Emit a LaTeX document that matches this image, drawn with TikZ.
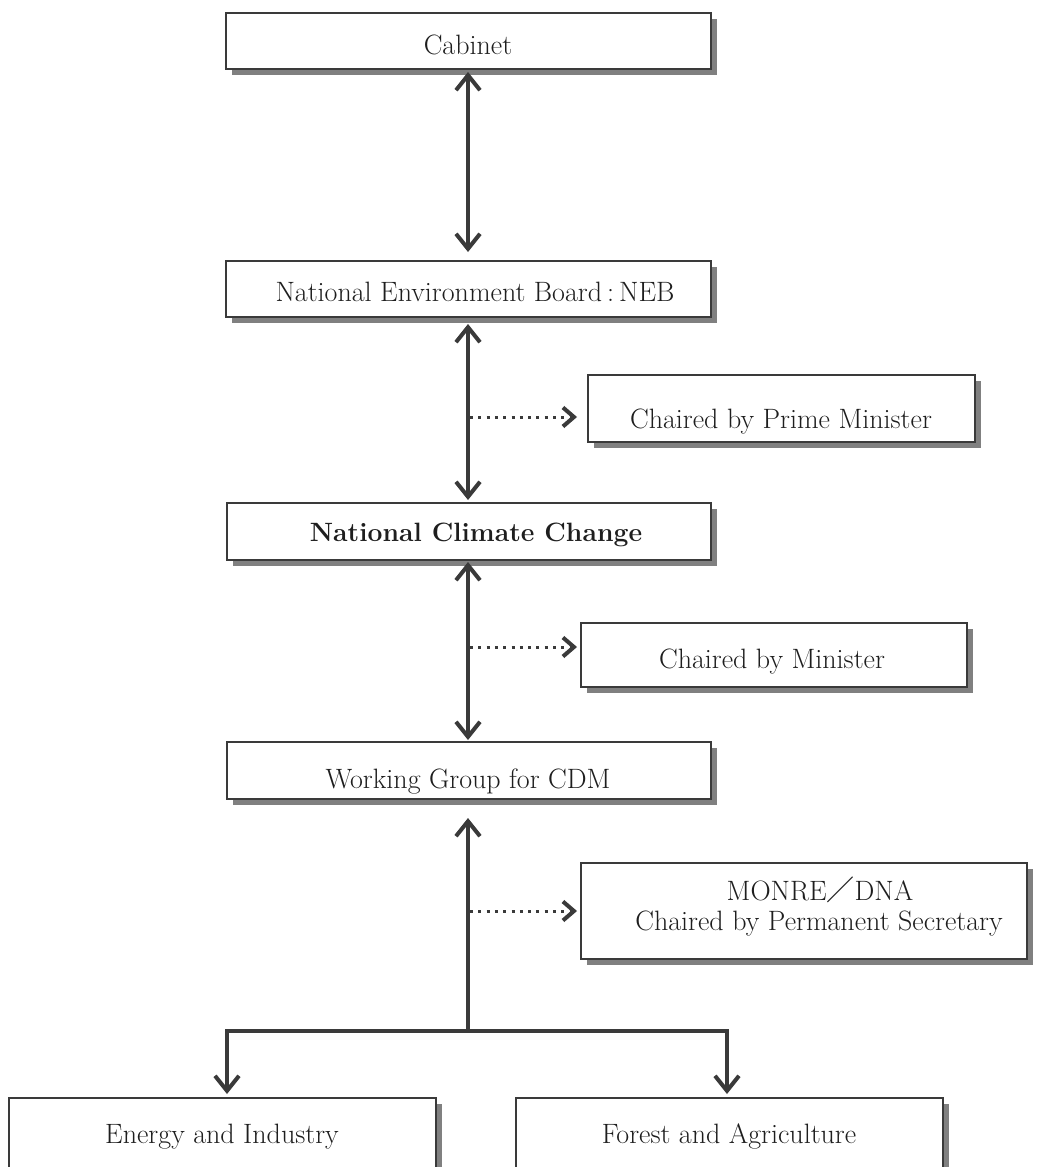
\documentclass[tikz,border=0pt]{standalone}
\usepackage{fontspec}
\newfontfamily\cjk{Noto Sans CJK JP}
\usetikzlibrary{arrows.meta,shadows}
\definecolor{ln}{HTML}{3A3A3A}
\definecolor{sh}{HTML}{808080}
\definecolor{tx}{HTML}{1E1E1E}
\tikzset{
  box/.style={draw=ln, line width=2pt, fill=white, rectangle, inner sep=0pt,
    drop shadow={shadow xshift=6pt, shadow yshift=-6pt, fill=sh, opacity=1}},
  lbl/.style={anchor=base, inner sep=0pt, text=tx, font=\fontsize{28}{33}\selectfont},
  link/.style={draw=ln, line width=4pt, arrows={Straight Barb[length=15pt,width=24pt]-Straight Barb[length=15pt,width=24pt]}},
  uplink/.style={draw=ln, line width=4pt, -{Straight Barb[length=15pt,width=24pt]}},
  dotlink/.style={draw=ln, line width=3pt, dash pattern=on 3pt off 5.3pt,
    -{Straight Barb[length=11pt,width=19pt,line width=4pt]}},
  bar/.style={draw=ln, line width=4.5pt}
}
\begin{document}
\begin{tikzpicture}[x=1pt,y=-1pt]
\useasboundingbox (0,0) rectangle (1055,1167);
\clip (0,0) rectangle (1055,1167);
\fill[white] (0,0) rectangle (1055,1167);

% boxes
\node[box, minimum width=485pt, minimum height=56pt] (cab) at (468.5,41) {};
\node[box, minimum width=485pt, minimum height=56pt] (neb) at (468.5,289) {};
\node[box, minimum width=484pt, minimum height=57pt] (ncc) at (469,531.5) {};
\node[box, minimum width=484pt, minimum height=57pt] (wg) at (469,770.5) {};
\node[box, minimum width=387pt, minimum height=67pt] (prime) at (781.5,408.5) {};
\node[box, minimum width=386pt, minimum height=64pt] (mini) at (774,655) {};
\node[box, minimum width=446pt, minimum height=96pt] (monre) at (804,911) {};
\node[box, minimum width=427pt, minimum height=100pt] (energy) at (222.5,1148) {};
\node[box, minimum width=427pt, minimum height=100pt] (forest) at (729.5,1148) {};

% labels
\node[lbl] (cabt) at (468,54) {Cabinet};
\node[lbl] (nebt) at (475,301) {National Environment Board\kern5pt:\kern5pt NEB};
\node[lbl, font=\fontsize{26.5}{32}\selectfont\bfseries] (ncct) at (476,541) {National Climate Change};
\node[lbl] (wgt) at (468,788) {Working Group for CDM};
\node[lbl] (primet) at (781,428) {Chaired by Prime Minister};
\node[lbl] (minit) at (772,668) {Chaired by Minister};
\node[lbl] (monret1) at (820,900) {MONRE{\cjk ／}DNA};
\node[lbl] (monret2) at (819,930) {Chaired by Permanent Secretary};
\node[lbl] (energyt) at (222,1143) {Energy and Industry};
\node[lbl] (forestt) at (729,1143) {Forest and Agriculture};

% vertical connectors
\draw[link, shorten <=2pt, shorten >=8pt] ([xshift=-0.5pt]cab.south) -- ([xshift=-0.5pt]neb.north);
\draw[link, shorten <=6pt, shorten >=2pt] ([xshift=-0.5pt]neb.south) -- ([xshift=-1pt]ncc.north);
\draw[link, shorten <=1pt, shorten >=1pt] ([xshift=-1pt]ncc.south) -- ([xshift=-1pt]wg.north);

% branch to working groups
\coordinate (hub) at (468,1031);
\coordinate (bl) at (227,1031);
\coordinate (br) at (727,1031);
\draw[uplink, shorten >=18pt] (hub) -- (hub |- wg.south);
\draw[bar] (bl) -- (br);
\draw[uplink, shorten >=3pt] ([yshift=2pt]bl) -- (bl |- energy.north);
\draw[uplink, shorten >=3pt] ([yshift=2pt]br) -- (br |- forest.north);

% dotted arrows
\coordinate (d1) at (470,417);
\coordinate (d2) at (470,647);
\coordinate (d3) at (470,911);
\draw[dotlink, shorten >=10pt] (d1) -- (d1 -| prime.west);
\draw[dotlink, shorten >=3pt] (d2) -- (d2 -| mini.west);
\draw[dotlink, shorten >=3pt] (d3) -- (d3 -| monre.west);
\end{tikzpicture}
\end{document}
